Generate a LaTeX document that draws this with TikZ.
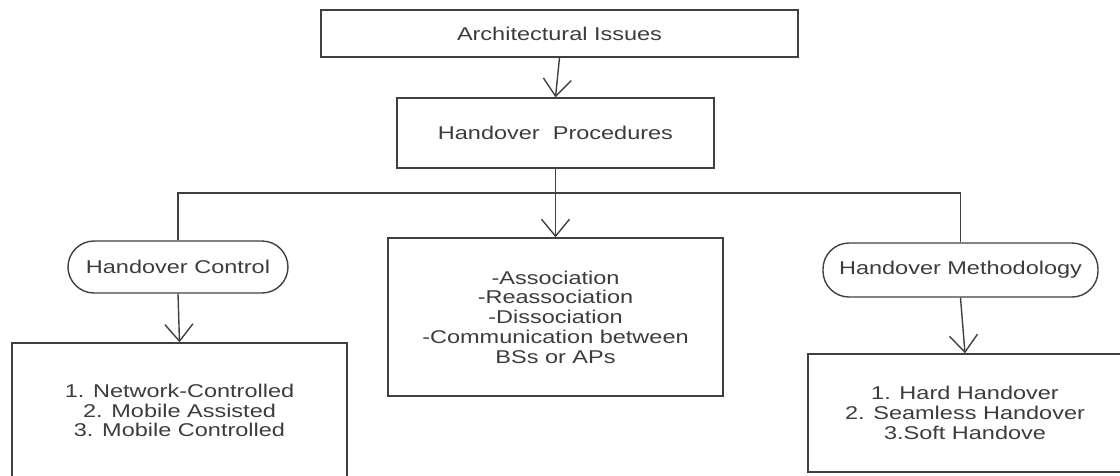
\documentclass[tikz,border=0pt]{standalone}
\usepackage{fontspec}
\setmainfont{Liberation Sans}[FakeStretch=1.27]
\usepackage{xcolor}
\usetikzlibrary{arrows.meta, positioning}
\definecolor{linegray}{RGB}{64,64,64}
\definecolor{textgray}{RGB}{60,60,60}

\begin{document}
\begin{tikzpicture}[x=1pt, y=-1pt,
    boxes/.style={draw=linegray, line width=1.4pt, rectangle, inner sep=0pt, align=center,
        text=textgray, font=\fontsize{18.5}{19.8}\selectfont},
    pills/.style={boxes, rounded corners=26pt},
    arr/.style={draw=linegray, line width=1.4pt, -{Straight Barb[length=17pt, width=28pt]}}]
        \useasboundingbox (0,0) rectangle (1120,475);
        \node[boxes, minimum width=477pt, minimum height=47pt] (arch) at (559.5,33.5) {Architectural Issues};
        \node[boxes, minimum width=317pt, minimum height=70pt] (proc) at (555.5,133) {Handover\ \ Procedures};
        \node[boxes, minimum width=335pt, minimum height=158pt] (steps) at (555.5,317)
            {-Association\\-Reassociation\\-Dissociation\\-Communication between\\BSs or APs};
        \node[pills, minimum width=220pt, minimum height=52pt] (ctrl) at (178,267) {Handover Control};
        \node[pills, minimum width=275pt, minimum height=54pt] (meth) at (960.5,270) {Handover Methodology};
        \node[boxes, minimum width=335pt, minimum height=135pt] (ctrllist) at (179.5,410.5)
            {1. Network-Controlled\\2. Mobile Assisted\\3. Mobile Controlled};
        \node[boxes, minimum width=314pt, minimum height=118pt] (methlist) at (965,413)
            {1. Hard Handover\\2. Seamless Handover\\3.Soft Handove};
        \coordinate (bar) at (555.5,193);
        \foreach \from/\to in
        {arch/proc,proc/steps,ctrl/ctrllist,meth/methlist} \draw[arr] (\from.south) -- (\to.north);
        \draw[draw=linegray, line width=1.4pt] (ctrl.north) -- (ctrl.north |- bar) -- (meth.north |- bar) -- (meth.north);
        \end{tikzpicture}
\end{document}
